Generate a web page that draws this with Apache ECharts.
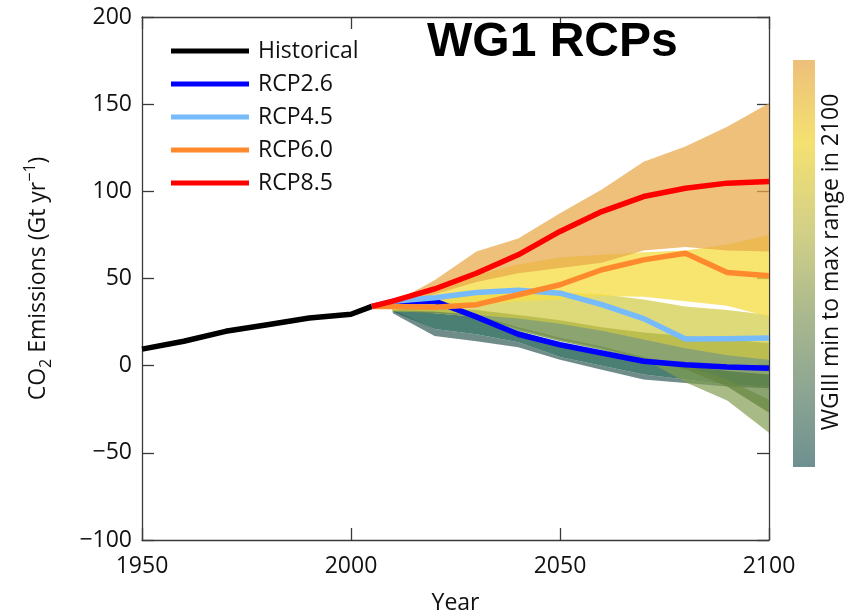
<!DOCTYPE html>
<html>
<head>
<meta charset="utf-8">
<title>CO2 emissions: WG1 RCPs</title>
<script src="https://cdn.jsdelivr.net/npm/echarts@6/dist/echarts.min.js"></script>
<style>
  html, body { margin: 0; padding: 0; background: #fff; }
  #chart { width: 858px; height: 611px; }
</style>
</head>
<body>
<div id="chart"></div>
<script>
// Historical CO2 emissions (Gt/yr)
const histYears = [1950, 1960, 1970, 1980, 1990, 2000, 2005];
const historical = [9.5, 14, 19.7, 23.5, 27.3, 29.5, 34];

// RCP emission pathways (Gt/yr)
const rcpYears = [2005, 2010, 2020, 2030, 2040, 2050, 2060, 2070, 2080, 2090, 2100];
const rcp26 = [34, 36.5, 37, 28, 18, 12, 7.3, 2.5, 0.5, -0.8, -1.5];
const rcp45 = [34, 37, 39, 42, 43.2, 41.6, 35, 27, 15.3, 15.5, 15.9];
const rcp60 = [34, 34, 33.5, 35, 40.7, 46.4, 55, 60.7, 64.5, 53.5, 51.6];
const rcp85 = [34, 37, 44, 53, 63.6, 77, 88.4, 97, 101.8, 104.7, 105.6];

// WGIII scenario ranges, lower and upper bounds per decade
const bandYears = [2010, 2020, 2030, 2040, 2050, 2060, 2070, 2080, 2090, 2100];
const grayLow   = [30, 17, 14, 10.5, 3.4, -2.3, -8, -10, -12, -13];
const grayHigh  = [32, 21, 18, 13.5, 5, 0, -5, -8, -11, -12];
const tealLow   = [31, 21, 18, 13.5, 5, 0, -5, -8, -11, -12];
const tealHigh  = [34, 30, 28, 20, 13, 8, 3, 0, -3, -5];
const lightGreenLow  = [31.5, 30, 28, 21, 15, 10, 4, -9.5, -20, -38.5];
const lightGreenHigh = [32, 31, 29, 22, 16, 11, 5, 0, -8, -19.5];
const greenLow  = [31.5, 30, 28, 20, 14, 9, 3, -2, -12, -27];
const greenHigh = [34, 33, 32, 29, 26, 22, 19, 17, 15, 13];
const oliveLow  = [31, 31, 29, 27, 24, 20, 15, 10, 6, 3.4];
const oliveHigh = [34, 40, 43, 44, 42, 41, 38, 34, 32, 29];
const yellowLow  = [32, 34, 35, 37, 38, 40, 39.5, 37, 34.4, 28];
const yellowHigh = [35, 44, 52, 58, 62, 63.6, 65, 66, 69.5, 75];
const tanLow  = [33, 41, 48, 53, 56, 59, 66, 68, 66, 65.5];
const tanHigh = [36, 49, 65.5, 73, 87.5, 101, 117, 125.7, 137, 150.5];

// Y-axis tick values
const yTicks = [-100, -50, 0, 50, 100, 150, 200];

// band fills, drawn bottom to top
const bands = [
  { low: grayLow, high: grayHigh, fill: 'rgba(64,102,99,0.75)' },
  { low: tealLow, high: tealHigh, fill: 'rgba(30,95,80,0.8)' },
  { low: lightGreenLow, high: lightGreenHigh, fill: 'rgba(131,158,82,0.7)' },
  { low: greenLow, high: greenHigh, fill: 'rgba(102,134,64,0.75)' },
  { low: oliveLow, high: oliveHigh, fill: 'rgba(208,202,65,0.7)' },
  { low: yellowLow, high: yellowHigh, fill: 'rgba(246,222,70,0.78)' },
  { low: tanLow, high: tanHigh, fill: 'rgba(231,167,70,0.72)' }
];

const FONT = '"Open Sans", "Noto Sans", sans-serif';
const AXIS_COLOR = '#3a3a3a';

const chart = echarts.init(document.getElementById('chart'), null, { renderer: 'canvas' });

function pairs(xs, ys) { return xs.map((x, i) => [x, ys[i]]); }

const lineSeries = [
  { name: 'Historical', color: '#000000', x: histYears, y: historical },
  { name: 'RCP2.6', color: '#0000ff', x: rcpYears, y: rcp26 },
  { name: 'RCP4.5', color: '#78bbfb', x: rcpYears, y: rcp45 },
  { name: 'RCP6.0', color: '#ff8a2e', x: rcpYears, y: rcp60 },
  { name: 'RCP8.5', color: '#ff0000', x: rcpYears, y: rcp85 }
].map(s => ({
  name: s.name,
  type: 'line',
  data: pairs(s.x, s.y),
  showSymbol: false,
  symbol: 'none',
  color: s.color,
  lineStyle: { color: s.color, width: 5.5, cap: 'butt', join: 'round' },
  z: 5,
  animation: false
}));

const bandSeries = {
  type: 'custom',
  name: 'ranges',
  data: bands.map((b, i) => [i]),
  renderItem: function (params, api) {
    const b = bands[params.dataIndex];
    const pts = [];
    bandYears.forEach((yr, k) => pts.push(api.coord([yr, b.high[k]])));
    for (let k = bandYears.length - 1; k >= 0; k--) pts.push(api.coord([bandYears[k], b.low[k]]));
    return { type: 'polygon', shape: { points: pts }, style: { fill: b.fill } };
  },
  silent: true,
  z: 2,
  animation: false
};

const frameAxis = {
  axisLine: { show: true, onZero: false, lineStyle: { color: AXIS_COLOR, width: 1.3 } },
  axisTick: { show: true, inside: true, length: 12, lineStyle: { color: AXIS_COLOR, width: 1.3 } },
  splitLine: { show: false }
};

const option = {
  animation: false,
  backgroundColor: '#ffffff',
  title: {
    text: 'WG1 RCPs',
    left: 427,
    top: 19,
    padding: 0,
    textStyle: { fontFamily: '"Liberation Sans", Arial, sans-serif', fontWeight: 'bold', fontSize: 48, color: '#000' }
  },
  legend: {
    data: ['Historical', 'RCP2.6', 'RCP4.5', 'RCP6.0', 'RCP8.5'],
    orient: 'vertical',
    left: 171,
    top: 38,
    padding: 0,
    icon: 'rect',
    itemWidth: 78,
    itemHeight: 5,
    itemGap: 7,
    textStyle: { fontFamily: FONT, fontSize: 23, color: '#111', lineHeight: 26, padding: [0, 0, 0, 4] }
  },
  grid: { left: 142, right: 89, top: 17, bottom: 71, containLabel: false, outerBoundsMode: 'none' },
  xAxis: [
    Object.assign({
      type: 'value', min: 1950, max: 2100, interval: 50, position: 'bottom',
      name: 'Year', nameLocation: 'middle', nameGap: 52,
      nameTextStyle: { fontFamily: FONT, fontSize: 23, color: '#111' },
      axisLabel: { fontFamily: FONT, fontSize: 23, color: '#111', margin: 15, formatter: v => String(v) }
    }, frameAxis),
    Object.assign({
      type: 'value', min: 1950, max: 2100, interval: 50, position: 'top',
      axisLabel: { show: false }
    }, frameAxis)
  ],
  yAxis: [
    Object.assign({
      type: 'value', min: -100, max: 200, interval: 50, position: 'left',
      name: '{n|CO}{sub|2}{n| Emissions (Gt yr}{sup|−1}{n|)}',
      nameLocation: 'middle', nameRotate: 90, nameGap: 88,
      nameTextStyle: {
        fontFamily: FONT, fontSize: 23, color: '#111',
        rich: {
          n: { fontFamily: FONT, fontSize: 23, color: '#111', lineHeight: 32, verticalAlign: 'middle' },
          sub: { fontFamily: FONT, fontSize: 16, color: '#111', lineHeight: 32, verticalAlign: 'bottom' },
          sup: { fontFamily: FONT, fontSize: 16, color: '#111', lineHeight: 32, verticalAlign: 'top' }
        }
      },
      axisLabel: {
        fontFamily: FONT, fontSize: 23, color: '#111', margin: 10,
        formatter: v => (yTicks.includes(v) ? String(v).replace('-', '\u2212') : '')
      }
    }, frameAxis),
    Object.assign({
      type: 'value', min: -100, max: 200, interval: 50, position: 'right',
      axisLabel: { show: false }
    }, frameAxis)
  ],
  graphic: [
    {
      type: 'rect',
      left: 793, top: 60,
      shape: { width: 22, height: 407 },
      style: {
        fill: new echarts.graphic.LinearGradient(0, 0, 0, 1, [
          { offset: 0, color: '#edbf7a' },
          { offset: 0.2, color: '#f4e170' },
          { offset: 0.42, color: '#d2d087' },
          { offset: 0.65, color: '#a6b68f' },
          { offset: 0.85, color: '#87a193' },
          { offset: 1, color: '#6e9090' }
        ])
      },
      silent: true
    },
    {
      type: 'text',
      x: 831, y: 262,
      rotation: Math.PI / 2,
      style: {
        text: 'WGIII min to max range in 2100',
        fontFamily: FONT, fontSize: 23, fill: '#111',
        textAlign: 'center', textVerticalAlign: 'middle'
      },
      silent: true
    }
  ],
  series: [bandSeries].concat(lineSeries)
};

chart.setOption(option);
</script>
</body>
</html>
